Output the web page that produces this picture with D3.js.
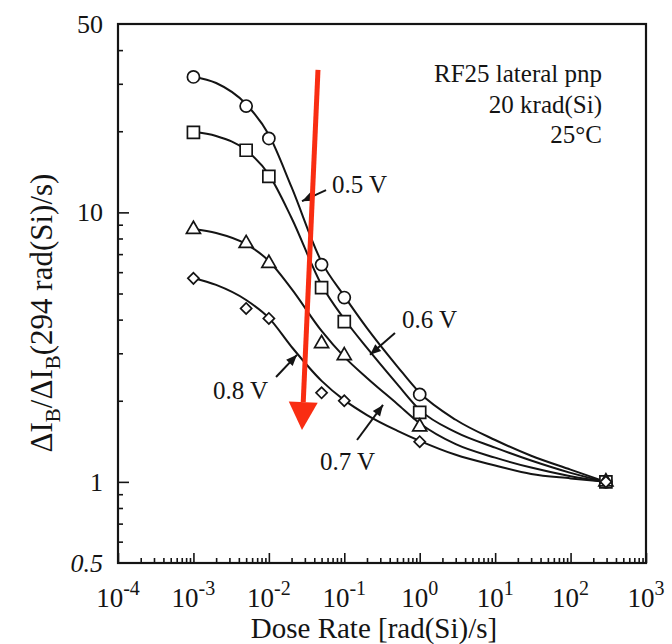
<!DOCTYPE html>
<html><head><meta charset="utf-8">
<script src="https://cdn.jsdelivr.net/npm/d3@7"></script>
<style>body{margin:0;background:#fff}svg{display:block}</style>
</head><body>
<svg id="chart" width="672" height="644"></svg>
<script>
const doseRates = [1e-3, 5e-3, 1e-2, 5e-2, 1e-1, 1, 294];
const seriesNames = ["0.5 V", "0.6 V", "0.7 V", "0.8 V"];
const markerShapes = ["circle", "square", "triangle", "diamond"];
const values05 = [31.8, 24.8, 18.8, 6.4, 4.83, 2.11, 1];
const values06 = [19.8, 17.0, 13.6, 5.26, 3.93, 1.81, 1];
const values07 = [8.65, 7.67, 6.47, 3.26, 2.94, 1.60, 1];
const values08 = [5.69, 4.40, 4.04, 2.14, 2.0, 1.41, 1];
// ---- fitted curves as drawn in the figure ----
const fitDose = [1e-3, 2e-3, 5e-3, 1e-2, 2e-2, 5e-2, 1e-1, 2e-1, 5e-1, 1, 3, 10, 30, 100, 294];
const fit05 = [31.8, 30.2, 25.2, 19.4, 12.4, 6.55, 4.89, 3.72, 2.69, 2.14, 1.70, 1.43, 1.25, 1.11, 1];
const fit06 = [19.9, 19.2, 17.0, 13.8, 9.53, 5.38, 4.02, 3.14, 2.31, 1.85, 1.53, 1.34, 1.20, 1.08, 1];
const fit07 = [8.68, 8.39, 7.63, 6.60, 5.20, 3.63, 2.91, 2.43, 1.95, 1.65, 1.38, 1.23, 1.13, 1.05, 1];
const fit08 = [5.71, 5.38, 4.73, 4.06, 3.17, 2.37, 2.01, 1.77, 1.55, 1.42, 1.26, 1.15, 1.07, 1.03, 1];
const xTickExponents = [-4, -3, -2, -1, 0, 1, 2, 3];
const yTickLabels = ["0.5", "1", "10", "50"];
const yTickValues = [0.5, 1, 10, 50];
const infoLines = ["RF25 lateral pnp", "20 krad(Si)", "25°C"];
// curve labels: [text x, text y, leader start x, y, arrow tip x, y] in data units
const labelText = ["0.5 V", "0.6 V", "0.7 V", "0.8 V"];
const labelPos = [
  [0.0687, 11.8, 0.0573, 12.1, 0.0275, 11.0],
  [0.582, 3.72, 0.470, 3.57, 0.219, 2.96],
  [0.0477, 1.107, 0.1476, 1.43, 0.326, 1.93],
  [0.001815, 2.03, 0.01245, 2.45, 0.0236, 2.96]
];
// red trend arrow: start and tip in data units
const trendArrow = [[0.0448, 33.8], [0.0275, 1.557]];

const allValues = [values05, values06, values07, values08];
const allFits = [fit05, fit06, fit07, fit08];
const series = seriesNames.map((n, i) => ({
  name: n, shape: markerShapes[i],
  pts: doseRates.map((d, j) => ({x: d, v: allValues[i][j]})),
  fit: fitDose.map((d, j) => ({x: d, v: allFits[i][j]}))
}));

const svg = d3.select("#chart");
const L = 118, R = 646, T = 24, B = 563;
const x = d3.scaleLog().domain([1e-4, 1e3]).range([L, R]);
const y = d3.scaleLog().domain([0.5, 50]).range([B, T]);
const FONT = "'Liberation Serif', 'Times New Roman', serif";
const ink = "#141414";

// ticks (inward)
const xMajor = xTickExponents.map(e => Math.pow(10, e));
const xMinor = [];
for (let e = -4; e < 3; e++) for (let k = 2; k <= 9; k++) xMinor.push(k * Math.pow(10, e));
const yMinor = [0.6, 0.7, 0.8, 0.9, 2, 3, 4, 5, 6, 7, 8, 9, 20, 30, 40];

function styleAxis(g) {
  g.select(".domain").remove();
  g.selectAll("line").attr("stroke", ink).attr("stroke-width", 1.6);
  g.selectAll("text").remove();
}
svg.append("g").attr("transform", `translate(0,${B})`)
  .call(d3.axisBottom(x).tickValues(xMajor).tickSize(-10).tickFormat(() => "")).call(styleAxis);
svg.append("g").attr("transform", `translate(0,${B})`)
  .call(d3.axisBottom(x).tickValues(xMinor).tickSize(-5).tickFormat(() => "")).call(styleAxis);
svg.append("g").attr("transform", `translate(${L},0)`)
  .call(d3.axisLeft(y).tickValues([1, 10]).tickSize(-11).tickFormat(() => "")).call(styleAxis);
svg.append("g").attr("transform", `translate(${L},0)`)
  .call(d3.axisLeft(y).tickValues(yMinor).tickSize(-5).tickFormat(() => "")).call(styleAxis);

// frame
svg.append("rect").attr("x", L).attr("y", T).attr("width", R - L).attr("height", B - T)
  .attr("fill", "none").attr("stroke", ink).attr("stroke-width", 2.2);

// x tick labels with superscripts
xTickExponents.forEach(e => {
  const t = svg.append("text").attr("x", x(Math.pow(10, e))).attr("y", B + 44)
    .attr("text-anchor", "middle").attr("font-family", FONT).attr("font-size", 27).attr("fill", ink);
  t.append("tspan").text("10");
  t.append("tspan").attr("dy", -12).attr("font-size", 20).text(e < 0 ? "-" + Math.abs(e) : String(e));
});
// y tick labels
yTickValues.forEach((v, i) => {
  svg.append("text").attr("x", L - 15).attr("y", y(v)).attr("dy", "0.35em")
    .attr("text-anchor", "end").attr("font-family", FONT).attr("font-size", 26).attr("fill", ink)
    .attr("font-style", v === 0.5 ? "italic" : "normal")
    .text(yTickLabels[i]);
});

// axis titles
svg.append("text").attr("x", 374).attr("y", 638).attr("text-anchor", "middle")
  .attr("font-family", FONT).attr("font-size", 29).attr("fill", ink).text("Dose Rate [rad(Si)/s]");
const yl = svg.append("text").attr("transform", "translate(52,313) rotate(-90)")
  .attr("text-anchor", "middle").attr("font-family", FONT).attr("font-size", 31).attr("fill", ink);
yl.append("tspan").text("ΔI");
yl.append("tspan").attr("dy", 8).attr("font-size", 21).text("B");
yl.append("tspan").attr("dy", -8).text("/ΔI");
yl.append("tspan").attr("dy", 8).attr("font-size", 21).text("B");
yl.append("tspan").attr("dy", -8).text("(294 rad(Si)/s)");

// fitted curves
const line = d3.line().x(d => x(d.x)).y(d => y(d.v)).curve(d3.curveMonotoneX);
svg.append("g").selectAll("path").data(series).join("path")
  .attr("d", d => line(d.fit)).attr("fill", "none").attr("stroke", ink).attr("stroke-width", 2);

// markers
const symType = {circle: d3.symbolCircle, square: d3.symbolSquare, triangle: d3.symbolTriangle, diamond: d3.symbolSquare};
const symSize = {circle: 115, square: 144, triangle: 85, diamond: 62};
series.forEach(s => {
  svg.append("g").selectAll("path").data(s.pts).join("path")
    .attr("transform", d => `translate(${x(d.x)},${y(d.v)})` + (s.shape === "diamond" ? " rotate(45)" : ""))
    .attr("d", d3.symbol().type(symType[s.shape]).size(symSize[s.shape]))
    .attr("fill", "#fff").attr("stroke", ink).attr("stroke-width", 1.7);
});

// curve labels with leader arrows
function arrowHead(g, x0, y0, x1, y1, len, half, color) {
  const a = Math.atan2(y1 - y0, x1 - x0);
  const bx = x1 - len * Math.cos(a), by = y1 - len * Math.sin(a);
  const px = -Math.sin(a) * half, py = Math.cos(a) * half;
  g.append("path").attr("d", `M${x1},${y1}L${bx + px},${by + py}L${bx - px},${by - py}Z`).attr("fill", color);
}
labelPos.forEach((p, i) => {
  svg.append("text").attr("x", x(p[0])).attr("y", y(p[1])).attr("font-family", FONT)
    .attr("font-size", 25).attr("fill", ink).text(labelText[i]);
  const x0 = x(p[2]), y0 = y(p[3]), x1 = x(p[4]), y1 = y(p[5]);
  svg.append("line").attr("x1", x0).attr("y1", y0).attr("x2", x1).attr("y2", y1)
    .attr("stroke", ink).attr("stroke-width", 2);
  arrowHead(svg, x0, y0, x1, y1, 11, 4.5, ink);
});

// info text
infoLines.forEach((t, i) => {
  svg.append("text").attr("x", R - 44).attr("y", 82 + i * 30.5).attr("text-anchor", "end")
    .attr("font-family", FONT).attr("font-size", 25).attr("fill", ink).text(t);
});

// red trend arrow
{
  const x0 = x(trendArrow[0][0]), y0 = y(trendArrow[0][1]);
  const x1 = x(trendArrow[1][0]), y1 = y(trendArrow[1][1]);
  const a = Math.atan2(y1 - y0, x1 - x0);
  const len = 28;
  svg.append("line").attr("x1", x0).attr("y1", y0)
    .attr("x2", x1 - len * Math.cos(a)).attr("y2", y1 - len * Math.sin(a))
    .attr("stroke", "#f92d12").attr("stroke-width", 5);
  arrowHead(svg, x0, y0, x1, y1, len, 14.5, "#f92d12");
}
</script>
</body></html>
